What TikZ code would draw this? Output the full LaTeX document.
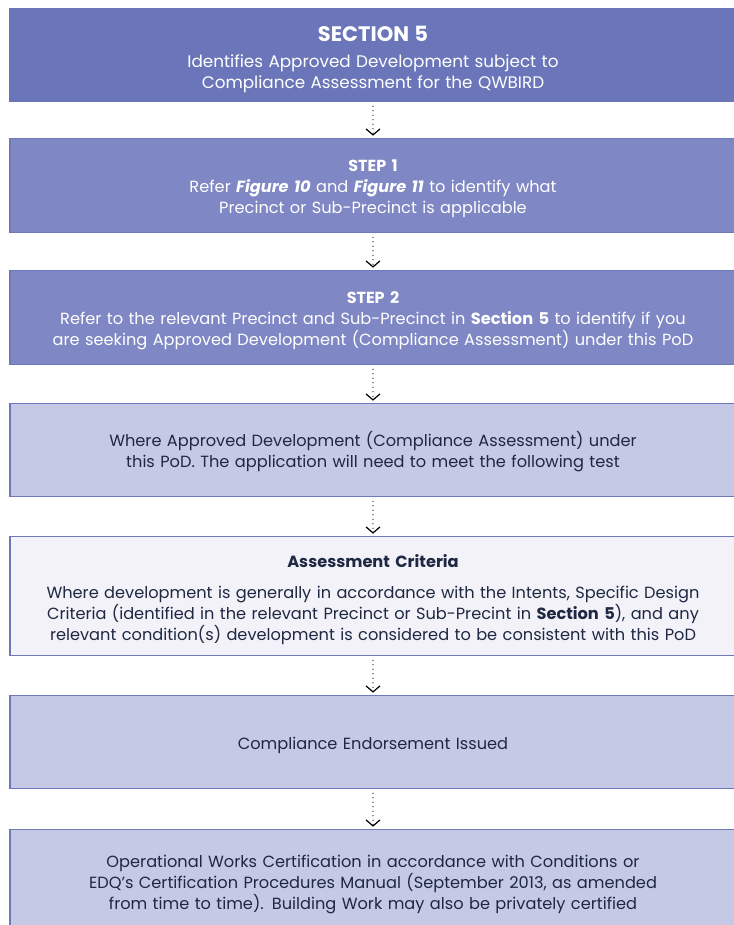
\documentclass[tikz,border=0pt]{standalone}
\usepackage{fontspec}
\setmainfont{Poppins}
\usetikzlibrary{positioning,arrows.meta}
\definecolor{sectionblue}{RGB}{106,118,185}
\definecolor{stepblue}{RGB}{127,136,196}
\definecolor{paleblue}{RGB}{197,201,230}
\definecolor{whiteblue}{RGB}{242,242,248}
\definecolor{edgeblue}{RGB}{110,121,188}
\definecolor{inktext}{RGB}{30,40,66}

\begin{document}
\begin{tikzpicture}[
    node distance=37pt,
    font=\fontsize{16.2}{21}\selectfont,
    >={Straight Barb[length=6pt,width=14pt,line width=1.2pt]},
    flowbox/.style={
		rectangle,
		draw=edgeblue,
		line width=1.4pt,
		outer sep=0pt,
		text centered,
		align=center,
		text width=710pt,
		minimum width=726pt,
		minimum height=92.6pt,
		inner sep=0pt,
		execute at begin node={\rule{0pt}{19pt}}
	},
	darkbox/.style={
		flowbox,
		fill=stepblue,
		text=white
	},
	lightbox/.style={
		flowbox,
		fill=paleblue,
		text=inktext
	},
	flowline/.style={
		->,
		line width=1.3pt,
		line cap=round,
		dash pattern=on 0pt off 4.5pt,
		shorten <=5pt,
		shorten >=3pt
	}
  ]

 \useasboundingbox (0,0) rectangle (733pt,-925pt);

 % // the boxes, top to bottom
 \node [darkbox, fill=sectionblue, draw=sectionblue, anchor=north] (section5) at (373pt,-8.7pt)
 {{\fontsize{21}{27}\selectfont\rule{0pt}{24pt}\textbf{SECTION 5}}\\[5pt]
  {\fontsize{16.8}{20.5}\selectfont Identifies Approved Development subject to\\
  Compliance Assessment for the QWBIRD}};

 \node [darkbox, minimum height=93.6pt, below=37.4pt of section5] (step1)
 {{\fontsize{16}{21}\selectfont\textbf{STEP 1}}\\
  Refer \textbf{\textit{Figure 10}} and \textbf{\textit{Figure 11}} to identify what\\
  Precinct or Sub-Precinct is applicable};

 \node [darkbox, minimum height=93.6pt, below=38.4pt of step1] (step2)
 {{\fontsize{16}{21}\selectfont\textbf{STEP 2}}\\
  Refer to the relevant Precinct and Sub-Precinct in \textbf{Section 5} to identify if you\\
  are seeking Approved Development (Compliance Assessment) under this PoD};

 \node [lightbox, below=39.4pt of step2] (approved)
 {Where Approved Development (Compliance Assessment) under\\
  this PoD. The application will need to meet the following test};

 \node [lightbox, fill=whiteblue, minimum height=118.6pt, below=40.4pt of approved] (criteria)
 {\rule{0pt}{21pt}\textbf{Assessment Criteria}\\[10pt]
  Where development is generally in accordance with the Intents, Specific Design\\
  Criteria (identified in the relevant Precinct or Sub-Precint in \textbf{Section 5}), and any\\
  relevant condition(s) development is considered to be consistent with this PoD};

 \node [lightbox, below=40.4pt of criteria] (endorse)
 {Compliance Endorsement Issued};

 \node [lightbox, minimum height=102.6pt, below=41.4pt of endorse] (certify)
 {Operational Works Certification in accordance with Conditions or\\
  EDQ's Certification Procedures Manual (September 2013, as amended\\
  from time to time). Building Work may also be privately certified};

 % // the dotted arrows
 \draw [flowline] (section5) -- (step1);
 \draw [flowline] (step1) -- (step2);
 \draw [flowline] (step2) -- (approved);
 \draw [flowline] (approved) -- (criteria);
 \draw [flowline] (criteria) -- (endorse);
 \draw [flowline] (endorse) -- (certify);

\end{tikzpicture}
\end{document}
